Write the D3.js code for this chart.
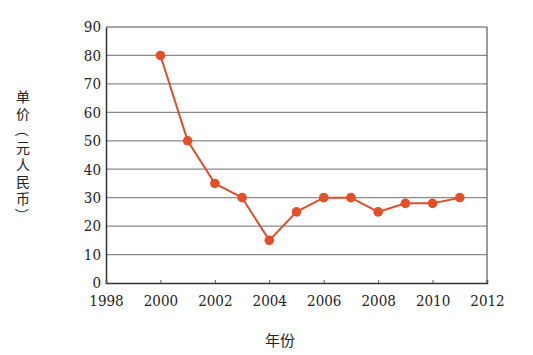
<!DOCTYPE html>
<html>
<head>
<meta charset="utf-8">
<script src="https://cdn.jsdelivr.net/npm/d3@7"></script>
<style>
  body { margin: 0; background: #fff; }
</style>
</head>
<body>
<svg id="chart" width="533" height="355"></svg>
<script>
// chart data
const years = [2000, 2001, 2002, 2003, 2004, 2005, 2006, 2007, 2008, 2009, 2010, 2011];
const prices = [80, 50, 35, 30, 15, 25, 30, 30, 25, 28, 28, 30];
const xTicks = [1998, 2000, 2002, 2004, 2006, 2008, 2010, 2012];
const yTicks = [0, 10, 20, 30, 40, 50, 60, 70, 80, 90];
const xTitle = '年份';
const yTitle = ['单', '价', '（', '元', '人', '民', '币', '）'];

const serif = "'DejaVu Serif Condensed', 'DejaVu Serif', serif";

const margin = { top: 27, right: 46, bottom: 72, left: 106 };
const width = 533 - margin.left - margin.right;
const height = 355 - margin.top - margin.bottom;

const svg = d3.select('#chart');
const g = svg.append('g')
  .attr('transform', `translate(${margin.left},${margin.top})`);

const x = d3.scaleLinear().domain([1998, 2012]).range([0, width]);
const y = d3.scaleLinear().domain([0, 90]).range([height, 0]);

// gridlines
g.selectAll('.grid')
  .data(yTicks.filter(d => d > 0))
  .enter().append('line')
  .attr('class', 'grid')
  .attr('x1', 0).attr('x2', width)
  .attr('y1', d => y(d)).attr('y2', d => y(d))
  .attr('stroke', '#8a8a8a')
  .attr('stroke-width', 1.3);

// right border
g.append('line')
  .attr('x1', width).attr('x2', width)
  .attr('y1', 0).attr('y2', height)
  .attr('stroke', '#666').attr('stroke-width', 1.3);

const yAxis = g.append('g')
  .call(d3.axisLeft(y).tickValues(yTicks).tickSize(0).tickPadding(5))
  .attr('font-family', serif)
  .attr('font-size', 15);
yAxis.select('.domain').attr('stroke', '#333').attr('stroke-width', 1.5);
yAxis.selectAll('text').attr('fill', '#222');

const xAxis = g.append('g')
  .attr('transform', `translate(0,${height})`)
  .call(d3.axisTop(x).tickValues(xTicks).tickFormat(d3.format('d')).tickSize(3).tickPadding(-26))
  .attr('font-family', serif)
  .attr('font-size', 15);
xAxis.select('.domain').attr('stroke', '#333').attr('stroke-width', 1.5);
xAxis.selectAll('line').attr('stroke', '#555');
xAxis.selectAll('text').attr('fill', '#222');

// line
const line = d3.line()
  .x((d, i) => x(years[i]))
  .y(d => y(d));

g.append('path')
  .datum(prices)
  .attr('fill', 'none')
  .attr('stroke', '#d9502c')
  .attr('stroke-width', 2)
  .attr('d', line);

g.selectAll('.dot')
  .data(prices)
  .enter().append('circle')
  .attr('class', 'dot')
  .attr('cx', (d, i) => x(years[i]))
  .attr('cy', d => y(d))
  .attr('r', 4.8)
  .attr('fill', '#e2502a');

// axis titles
svg.append('text')
  .attr('x', 280)
  .attr('y', 346)
  .attr('text-anchor', 'middle')
  .attr('font-family', '"Noto Sans CJK SC", sans-serif')
  .attr('font-size', 15)
  .attr('fill', '#222')
  .text(xTitle);

// vertical title, brackets turned to vertical form
svg.selectAll('.ytitle')
  .data(yTitle)
  .enter().append('text')
  .attr('class', 'ytitle')
  .attr('transform', (d, i) => {
    const cy = 96 + i * 17;
    return (d === '（' || d === '）')
      ? `translate(23,${cy}) rotate(90)`
      : `translate(23,${cy})`;
  })
  .attr('text-anchor', 'middle')
  .attr('dominant-baseline', 'central')
  .attr('font-family', '"Noto Sans CJK SC", sans-serif')
  .attr('font-size', 14)
  .attr('fill', '#222')
  .text(d => d);
</script>
</body>
</html>
